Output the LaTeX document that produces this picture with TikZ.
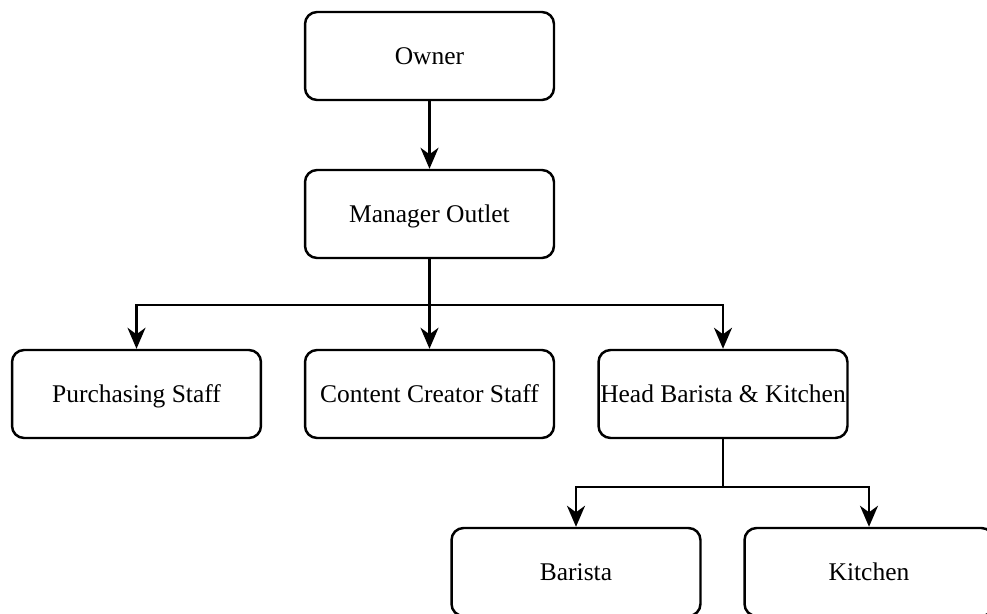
\documentclass[tikz,border=0pt]{standalone}
\usepackage{fontspec}
\setmainfont{Liberation Serif}
\usetikzlibrary{arrows.meta}

\begin{document}
\begin{tikzpicture}
                        [x=0.02cm, y=-0.02cm,
                        box/.style={draw, line width=1.4pt, rounded corners=0.24cm,
                            minimum width=4.98cm, minimum height=1.76cm, inner sep=0pt,
                            text height=1.05em, text depth=0.1em,
                            font=\fontsize{14.5}{17}\selectfont},
                        arr/.style={line width=1.4pt, -{Stealth[length=4.2mm,width=3.6mm,inset=1.3mm]}},
                        wire/.style={line width=1.4pt}]
                        \useasboundingbox (0,0) rectangle (987,614);
                        \node[box] (own) at (429.5,56) {Owner};
                        \node[box] (mgr) at (429.5,214) {Manager Outlet};
                        \node[box] (pur) at (136.5,394) {Purchasing Staff};
                        \node[box] (con) at (429.5,394) {Content Creator Staff};
                        \node[box] (head) at (723,394) {Head Barista \& Kitchen};
                        \node[box] (bar) at (576,572) {Barista};
                        \node[box] (kit) at (869,572) {Kitchen};
                        \coordinate (sp1) at (429.5,305);
                        \coordinate (sp2) at (723,487);
                        \draw[arr] (own) -- (mgr);
                        \foreach \from/\to in {mgr/sp1,head/sp2}
                        \draw[wire] (\from.south) -- (\to);
                        \foreach \from/\to in {sp1/pur,sp1/con,sp1/head,sp2/bar,sp2/kit}
                        \draw[arr] (\from) -| (\to.north);
                    \end{tikzpicture}
\end{document}
